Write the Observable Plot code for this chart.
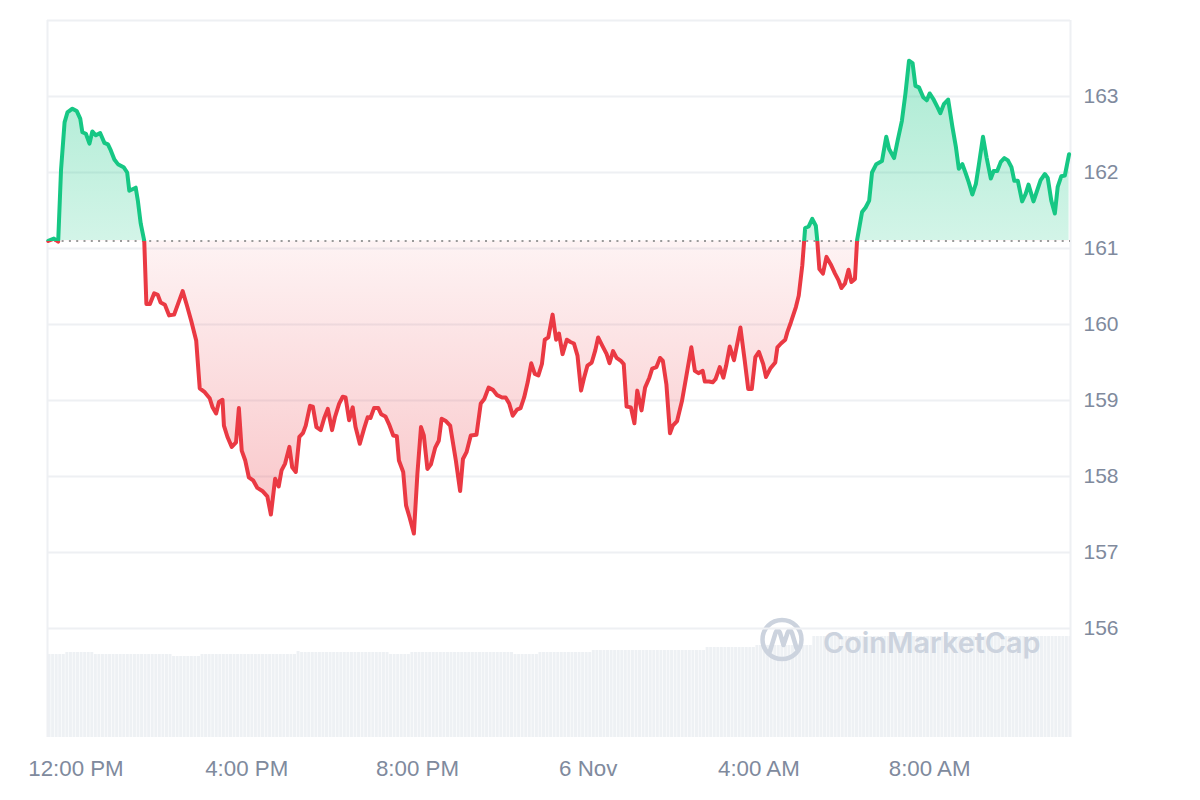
<!DOCTYPE html>
<html><head><meta charset="utf-8">
<script src="https://cdn.jsdelivr.net/npm/d3@7"></script>
<script src="https://cdn.jsdelivr.net/npm/@observablehq/plot@0.6"></script>
<style>
html,body{margin:0;padding:0;background:#fff;}
#wrap{position:relative;width:1200px;height:800px;overflow:hidden;}
#wrap > svg{position:absolute;left:0;top:0;}
</style></head><body><div id="wrap"></div>
<script>
// ---------- DATA ----------
const times = [
"11-05 11:21","11-05 11:29","11-05 11:35","11-05 11:39","11-05 11:44","11-05 11:48","11-05 11:55",
"11-05 12:01","11-05 12:06","11-05 12:09","11-05 12:14","11-05 12:19","11-05 12:23","11-05 12:28","11-05 12:34","11-05 12:40","11-05 12:45","11-05 12:49","11-05 12:54","11-05 12:59",
"11-05 13:07","11-05 13:12","11-05 13:15","11-05 13:24","11-05 13:27","11-05 13:31","11-05 13:36","11-05 13:39","11-05 13:44","11-05 13:50","11-05 13:55","11-05 13:59",
"11-05 14:05","11-05 14:11","11-05 14:18","11-05 14:30","11-05 14:36","11-05 14:42","11-05 14:49","11-05 14:54",
"11-05 15:01","11-05 15:08","11-05 15:12","11-05 15:17","11-05 15:21","11-05 15:26","11-05 15:28","11-05 15:33","11-05 15:39","11-05 15:45","11-05 15:49","11-05 15:53","11-05 15:58",
"11-05 16:03","11-05 16:09","11-05 16:15","11-05 16:22","11-05 16:29","11-05 16:34","11-05 16:40","11-05 16:45","11-05 16:49","11-05 16:54",
"11-05 17:00","11-05 17:04","11-05 17:09","11-05 17:14","11-05 17:19","11-05 17:23","11-05 17:29","11-05 17:33","11-05 17:38","11-05 17:44","11-05 17:49","11-05 17:54",
"11-05 18:00","11-05 18:04","11-05 18:10","11-05 18:15","11-05 18:19","11-05 18:24","11-05 18:29","11-05 18:33","11-05 18:39","11-05 18:45","11-05 18:50","11-05 18:54","11-05 18:59",
"11-05 19:05","11-05 19:09","11-05 19:15","11-05 19:20","11-05 19:26","11-05 19:31","11-05 19:34","11-05 19:40","11-05 19:44","11-05 19:49","11-05 19:55",
"11-05 20:00","11-05 20:05","11-05 20:09","11-05 20:14","11-05 20:19","11-05 20:25","11-05 20:30","11-05 20:34","11-05 20:40","11-05 20:46","11-05 20:54",
"11-05 21:00","11-05 21:04","11-05 21:09","11-05 21:15","11-05 21:23","11-05 21:29","11-05 21:34","11-05 21:40","11-05 21:46","11-05 21:52","11-05 21:59",
"11-05 22:04","11-05 22:09","11-05 22:14","11-05 22:20","11-05 22:25","11-05 22:30","11-05 22:35","11-05 22:40","11-05 22:45","11-05 22:50","11-05 22:55","11-05 22:59",
"11-05 23:04","11-05 23:10","11-05 23:15","11-05 23:19","11-05 23:24","11-05 23:30","11-05 23:35","11-05 23:40","11-05 23:45","11-05 23:50","11-05 23:54","11-05 23:59",
"11-06 00:05","11-06 00:10","11-06 00:14","11-06 00:20","11-06 00:26","11-06 00:30","11-06 00:35","11-06 00:40","11-06 00:46","11-06 00:50","11-06 00:54",
"11-06 01:00","11-06 01:05","11-06 01:09","11-06 01:15","11-06 01:20","11-06 01:26","11-06 01:30","11-06 01:36","11-06 01:41","11-06 01:45","11-06 01:50","11-06 01:55","11-06 01:59",
"11-06 02:05","11-06 02:12","11-06 02:18","11-06 02:25","11-06 02:30","11-06 02:35","11-06 02:41","11-06 02:44","11-06 02:50","11-06 02:55","11-06 02:59",
"11-06 03:05","11-06 03:10","11-06 03:14","11-06 03:19","11-06 03:25","11-06 03:34","11-06 03:40","11-06 03:45","11-06 03:50","11-06 03:55",
"11-06 04:00","11-06 04:06","11-06 04:10","11-06 04:16","11-06 04:23","11-06 04:26","11-06 04:31","11-06 04:37","11-06 04:40","11-06 04:45","11-06 04:52","11-06 04:56",
"11-06 05:01","11-06 05:05","11-06 05:10","11-06 05:15","11-06 05:20","11-06 05:22","11-06 05:25","11-06 05:30","11-06 05:35","11-06 05:41","11-06 05:47","11-06 05:52","11-06 05:56",
"11-06 06:01","11-06 06:06","11-06 06:10","11-06 06:15","11-06 06:18","11-06 06:25","11-06 06:30","11-06 06:35","11-06 06:39","11-06 06:45","11-06 06:53","11-06 06:59",
"11-06 07:03","11-06 07:10","11-06 07:15","11-06 07:21","11-06 07:26","11-06 07:31","11-06 07:36","11-06 07:40","11-06 07:45","11-06 07:51","11-06 07:56",
"11-06 08:00","11-06 08:05","11-06 08:11","11-06 08:15","11-06 08:20","11-06 08:26","11-06 08:32","11-06 08:37","11-06 08:41","11-06 08:46","11-06 08:51","11-06 08:55",
"11-06 09:00","11-06 09:05","11-06 09:09","11-06 09:15","11-06 09:20","11-06 09:26","11-06 09:30","11-06 09:35","11-06 09:40","11-06 09:45","11-06 09:50","11-06 09:55","11-06 09:59",
"11-06 10:04","11-06 10:10","11-06 10:15","11-06 10:19","11-06 10:26","11-06 10:31","11-06 10:36","11-06 10:42","11-06 10:46","11-06 10:51","11-06 10:56",
"11-06 11:00","11-06 11:05","11-06 11:10","11-06 11:16"
];
const prices = [
161.10,161.13,161.09,162.03,162.66,162.79,162.84,
162.81,162.71,162.53,162.51,162.38,162.54,162.49,162.52,162.39,162.37,162.29,162.17,162.11,
162.07,162.00,161.76,161.80,161.63,161.33,161.10,160.27,160.27,160.41,160.39,160.29,
160.26,160.12,160.13,160.44,160.25,160.05,159.79,159.16,
159.11,159.03,158.91,158.83,158.98,159.01,158.67,158.52,158.39,158.45,158.90,158.34,158.21,
157.99,157.95,157.85,157.81,157.74,157.50,157.97,157.87,158.08,158.17,
158.39,158.12,158.06,158.52,158.57,158.67,158.93,158.92,158.65,158.61,158.77,158.89,
158.61,158.78,158.96,159.05,159.04,158.74,158.91,158.65,158.43,158.63,158.78,158.77,158.90,
158.90,158.82,158.79,158.69,158.54,158.53,158.21,158.06,157.62,157.46,157.25,
158.04,158.65,158.54,158.10,158.16,158.38,158.47,158.76,158.73,158.67,158.21,
157.81,158.23,158.32,158.54,158.55,158.96,159.02,159.17,159.14,159.07,159.04,
159.04,158.96,158.80,158.88,158.90,159.04,159.24,159.49,159.35,159.33,159.48,159.80,
159.83,160.13,159.80,159.88,159.61,159.80,159.77,159.75,159.59,159.13,159.29,159.46,
159.50,159.66,159.83,159.72,159.61,159.49,159.65,159.56,159.52,159.48,158.92,
158.91,158.70,159.13,158.87,159.17,159.30,159.42,159.44,159.56,159.52,159.21,158.57,158.67,
158.73,159.00,159.32,159.70,159.39,159.36,159.39,159.25,159.25,159.24,159.28,
159.44,159.30,159.46,159.71,159.53,159.96,159.53,159.15,159.15,159.57,
159.64,159.48,159.31,159.42,159.50,159.70,159.75,159.80,159.90,160.03,160.23,160.38,
160.78,161.27,161.29,161.39,161.30,161.11,160.73,160.67,160.89,160.79,160.67,160.58,160.48,
160.54,160.72,160.56,160.60,161.11,161.48,161.54,161.63,162.00,162.11,162.15,162.47,
162.31,162.19,162.42,162.68,163.04,163.47,163.44,163.14,163.12,162.99,162.95,
163.04,162.97,162.86,162.78,162.90,162.96,162.60,162.33,162.05,162.11,161.98,161.87,
161.71,161.85,162.09,162.47,162.20,161.92,162.02,162.02,162.14,162.19,162.16,162.07,161.89,
161.89,161.62,161.72,161.84,161.62,161.76,161.90,161.98,161.93,161.63,161.46,
161.81,161.95,161.96,162.24
];
const baseline = 161.10;          // opening price (dotted reference line)
const yTicks = [156, 157, 158, 159, 160, 161, 162, 163];
const gridValues = [156, 157, 158, 159, 160, 161, 162, 163, 164];
const xTickTimes = ["11-05 12:00", "11-05 16:00", "11-05 20:00", "11-06 00:00", "11-06 04:00", "11-06 08:00"];
const xTickLabels = ["12:00 PM", "4:00 PM", "8:00 PM", "6 Nov", "4:00 AM", "8:00 AM"];
const xRange = ["11-05 11:20", "11-06 11:18"];
// volume, 5-minute bars starting at 11:20 (billions)
const volumeStart = "11-05 11:20";
const volumes = [
3.32,3.32,3.32,3.32,3.32,
3.40,3.40,3.40,3.40,3.40,3.40,3.40,3.40,
3.32,3.32,3.32,3.32,3.32,3.32,3.32,3.32,3.32,3.32,
3.32,3.32,3.32,3.32,3.32,3.32,3.32,3.32,3.32,3.32,
3.32,3.32,
3.24,3.24,3.24,3.24,3.24,3.24,3.24,3.24,
3.32,3.32,3.32,3.32,3.32,3.32,3.32,3.32,3.32,3.32,
3.32,3.32,3.32,3.32,3.32,3.32,3.32,3.32,3.32,3.32,
3.32,3.32,3.32,3.32,3.32,3.32,3.32,
3.44,
3.40,3.40,3.40,3.40,3.40,3.40,3.40,3.40,3.40,3.40,
3.40,3.40,3.40,3.40,3.40,3.40,3.40,3.40,3.40,3.40,
3.40,3.40,3.40,3.40,3.40,
3.32,3.32,3.32,3.32,3.32,3.32,
3.40,3.40,3.40,3.40,3.40,3.40,3.40,3.40,3.40,3.40,
3.40,3.40,3.40,3.40,3.40,3.40,3.40,3.40,3.40,3.40,
3.40,3.40,3.40,3.40,3.40,3.40,3.40,3.40,3.40,
3.32,3.32,3.32,3.32,3.32,3.32,3.32,
3.40,3.40,3.40,3.40,3.40,3.40,3.40,3.40,3.40,3.40,
3.40,3.40,3.40,3.40,3.40,
3.48,3.48,3.48,3.48,3.48,3.48,3.48,3.48,3.48,3.48,
3.48,3.48,3.48,3.48,3.48,3.48,3.48,3.48,3.48,3.48,
3.48,3.48,3.48,3.48,3.48,3.48,3.48,3.48,3.48,3.48,
3.48,3.48,
3.60,3.60,3.60,3.60,3.60,3.60,3.60,3.60,3.60,3.60,
3.60,3.60,3.60,3.60,
3.68,3.68,3.68,3.68,3.68,3.68,3.68,3.68,3.68,3.68,
3.68,3.68,3.68,3.68,3.68,3.68,
4.04,4.04,4.04,4.04,4.04,4.04,4.04,4.04,4.04,4.04,
4.04,4.04,4.04,4.04,4.04,4.04,4.04,4.04,4.04,4.04,
4.04,4.04,4.04,4.04,4.04,4.04,4.04,4.04,4.04,4.04,
4.04,4.04,4.04,4.04,4.04,4.04,4.04,4.04,4.04,4.04,
4.04,4.04,4.04,4.04,4.04,4.04,4.04,4.04,4.04,4.04,
4.04,4.04,4.04,4.04,4.04,4.04,4.04,4.04,4.04,4.04,
4.04,4.04,4.04,4.04,4.04,4.04,4.04,4.04,4.04,4.04,
4.04,4.04,4.04
];

// ---------- BUILD ----------
(function () {
const parse = s => new Date("2024-" + s.replace(" ", "T") + ":00Z");
const data = times.map((t, i) => ({date: parse(t), price: prices[i]}));
const xDomain = xRange.map(parse);
const labelMap = new Map(xTickTimes.map((t, i) => [+parse(t), xTickLabels[i]]));
const yDomain = [154.566, 164];
const W = 1200, H = 800;
const margins = {marginTop: 20, marginRight: 130, marginBottom: 63, marginLeft: 47};
const green = "#16c784", red = "#ea3943", gridColor = "#eef0f3";

const step = 5 * 60 * 1000;
const v0 = +parse(volumeStart), vEnd = +xDomain[1];
const volData = volumes.map((v, i) => ({x1: new Date(v0 + i * step), x2: new Date(Math.min(v0 + (i + 1) * step, vEnd)), v}))
  .filter(d => +d.x1 < vEnd);

const wrap = document.getElementById("wrap");

const volPlot = Plot.plot({
  width: W, height: H, ...margins,
  x: {type: "utc", domain: xDomain, axis: null},
  y: {domain: [0, d3.max(volumes) * 7.1], axis: null},
  style: {background: "transparent"},
  marks: [
    Plot.rect(volData, {x1: "x1", x2: "x2", y1: 0, y2: "v", fill: "#eef1f4", insetLeft: 0.6})
  ]
});
wrap.appendChild(volPlot);

// watermark
const wm = d3.create("svg").attr("width", W).attr("height", H).style("position", "absolute").style("left", 0).style("top", 0);
wm.append("circle").attr("cx", 782).attr("cy", 639.5).attr("r", 19.5).attr("fill", "none").attr("stroke", "#ccd3de").attr("stroke-width", 4.5);
wm.append("path").attr("d", "M770,651 L775.5,633 Q777.5,627.5 780,633 L783.5,645 L787.5,633 Q790,627.5 792,633 L796.5,648")
  .attr("fill", "none").attr("stroke", "#ccd3de").attr("stroke-width", 4.5).attr("stroke-linecap", "round").attr("stroke-linejoin", "round");
wm.append("text").attr("x", 823).attr("y", 653).attr("font-family", "Inter, 'Open Sans', sans-serif").attr("font-weight", 600)
  .attr("font-size", 28.8).attr("fill", "#ccd3de").text("CoinMarketCap");
wrap.appendChild(wm.node());

const pricePlot = Plot.plot({
  width: W, height: H, ...margins,
  x: {type: "utc", domain: xDomain, ticks: xTickTimes.map(parse), tickFormat: d => labelMap.get(+d), tickSize: 0, tickPadding: 23, label: null},
  y: {domain: yDomain, axis: "right", ticks: yTicks, tickFormat: d => String(d), tickSize: 0, tickPadding: 13, label: null},
  style: {background: "transparent", fontFamily: "'Liberation Sans', Arial, sans-serif", fontSize: "21px", color: "#808a9d", overflow: "visible"},
  marks: [
    Plot.ruleY(gridValues, {stroke: gridColor, strokeWidth: 2}),
    Plot.ruleX(xDomain, {stroke: gridColor, strokeWidth: 2}),
    Plot.areaY(data, {x: "date", y1: baseline, y2: "price", fill: "url(#areaGrad)"}),
    Plot.ruleY([baseline], {stroke: "#9a9a9a", strokeWidth: 2, strokeDasharray: "2,5.3"}),
    Plot.lineY(data, {x: "date", y: "price", stroke: "url(#lineGrad)", strokeWidth: 4, strokeLinejoin: "round", strokeLinecap: "round"})
  ]
});
wrap.appendChild(pricePlot);

// x-axis labels are slightly larger than y-axis labels in the reference
d3.select(pricePlot).selectAll("g[aria-label^='x-axis']").attr("font-size", 22.3).selectAll("text").attr("font-size", 22.3);

// gradients positioned with the y scale
const ys = pricePlot.scale("y");
const yPix = d3.scaleLinear(ys.domain, ys.range);
const yTop = yPix(yDomain[1]), yBot = yPix(yDomain[0]);
const off = v => Math.max(0, Math.min(1, (yPix(v) - yTop) / (yBot - yTop)));
const defs = d3.select(pricePlot).insert("defs", ":first-child");
const lg = defs.append("linearGradient").attr("id", "lineGrad").attr("gradientUnits", "userSpaceOnUse")
  .attr("x1", 0).attr("x2", 0).attr("y1", yTop).attr("y2", yBot);
[[0, green], [off(baseline), green], [off(baseline), red], [1, red]].forEach(([o, c]) =>
  lg.append("stop").attr("offset", o).attr("stop-color", c));
const ag = defs.append("linearGradient").attr("id", "areaGrad").attr("gradientUnits", "userSpaceOnUse")
  .attr("x1", 0).attr("x2", 0).attr("y1", yTop).attr("y2", yBot);
const pMax = d3.max(prices), pMin = d3.min(prices);
[[0, green, 0.36], [off(pMax), green, 0.36], [off(baseline), green, 0.19],
 [off(baseline), red, 0.06], [off(pMin), red, 0.3], [1, red, 0.3]].forEach(([o, c, a]) =>
  ag.append("stop").attr("offset", o).attr("stop-color", c).attr("stop-opacity", a));
})();
</script></body></html>
